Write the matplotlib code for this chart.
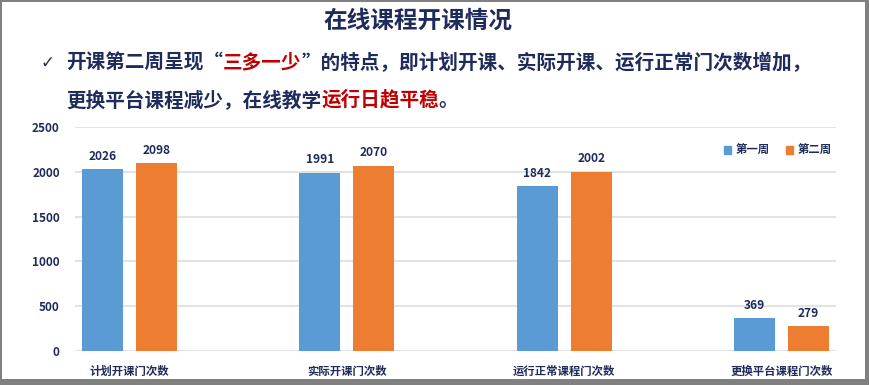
import matplotlib
matplotlib.use("Agg")
import matplotlib.pyplot as plt
from matplotlib.patches import Patch, Rectangle

plt.rcParams['font.family'] = ['Noto Sans CJK SC', 'DejaVu Sans']

categories = ['计划开课门次数', '实际开课门次数', '运行正常课程门次数', '更换平台课程门次数']
week1 = [2026, 1991, 1842, 369]
week2 = [2098, 2070, 2002, 279]
series_names = ['第一周', '第二周']
yticks = [0, 500, 1000, 1500, 2000, 2500]

title = '在线课程开课情况'
line1 = [('开课第二周呈现“', 'navy'), ('三多一少', 'red'), ('”的特点，即计划开课、实际开课、运行正常门次数增加，', 'navy')]
line2 = [('更换平台课程减少，在线教学', 'navy'), ('运行日趋平稳', 'red'), ('。', 'navy')]

NAVY = '#1F2B5B'
RED = '#C00000'
BLUE = '#5B9BD5'
ORANGE = '#ED7D31'
cmap = {'navy': NAVY, 'red': RED}

W, H = 869, 385
fig = plt.figure(figsize=(W / 100, H / 100), dpi=100)
fig.patch.set_facecolor('white')

def px_rect(x0, y0, x1, y1):
    fig.add_artist(Rectangle((x0 / W, 1 - y1 / H), (x1 - x0) / W, (y1 - y0) / H,
                             transform=fig.transFigure, facecolor='#808080',
                             edgecolor='none', zorder=10))
px_rect(0, 0, W, 2)
px_rect(0, 0, 2, H)
px_rect(865, 0, W, H)
px_rect(0, 379, W, H)

ax = fig.add_axes([75 / W, 1 - 351 / H, (836 - 75) / W, (351 - 127) / H])
x = list(range(len(categories)))
bw = 0.19
off = 0.124
b1 = ax.bar([i - off for i in x], week1, width=bw, color=BLUE, zorder=3, label=series_names[0])
b2 = ax.bar([i + off for i in x], week2, width=bw, color=ORANGE, zorder=3, label=series_names[1])
ax.set_xlim(-0.25, 3.25)
ax.set_ylim(0, 2500)
ax.set_yticks(yticks)
ax.yaxis.grid(True, color='#E3E3E3', linewidth=1.5, zorder=0)
ax.set_axisbelow(True)
for s in ax.spines.values():
    s.set_visible(False)
ax.tick_params(axis='both', length=0)
ax.tick_params(axis='y', pad=11)
for lab in ax.get_yticklabels():
    lab.set_fontsize(8.5)
    lab.set_fontweight('bold')
    lab.set_color(NAVY)
ax.set_xticks(x)
ax.set_xticklabels(categories, fontsize=8.2, color=NAVY, fontweight='semibold')
ax.tick_params(axis='x', pad=10)

for bars in (b1, b2):
    for r in bars:
        ax.annotate(f'{int(r.get_height())}', (r.get_x() + r.get_width() / 2, r.get_height()),
                    xytext=(0, 4.5), textcoords='offset points', ha='center', va='bottom',
                    fontsize=8.6, fontweight='bold', color=NAVY)

leg = ax.legend(handles=[Patch(color=BLUE, label=series_names[0]), Patch(color=ORANGE, label=series_names[1])],
                ncol=2, loc='center right', bbox_to_anchor=(1.008, 0.895), frameon=False,
                handlelength=0.6, handleheight=0.6, handletextpad=0.4, columnspacing=1.5,
                prop={'size': 8.2, 'weight': 'bold'})
for t in leg.get_texts():
    t.set_color(NAVY)

# title
fig.text(418 / W, 1 - 21 / H, title, ha='center', va='center', fontsize=17,
         fontweight='bold', color=NAVY)
# check mark
fig.text(47 / W, 1 - 63 / H, '✓', ha='center', va='center', fontsize=12,
         color=NAVY, family=['DejaVu Sans'])

fig.canvas.draw()
renderer = fig.canvas.get_renderer()

def draw_line(parts, x0, yc, fs):
    xp = x0
    for txt, c in parts:
        t = fig.text(xp / W, 1 - yc / H, txt, ha='left', va='center', fontsize=fs,
                     fontweight='bold', color=cmap[c])
        bb = t.get_window_extent(renderer=renderer)
        xp += bb.width

draw_line(line1, 66, 63, 14.1)
draw_line(line2, 66, 100, 14.1)

fig.savefig('out.png', dpi=100, facecolor='white')
